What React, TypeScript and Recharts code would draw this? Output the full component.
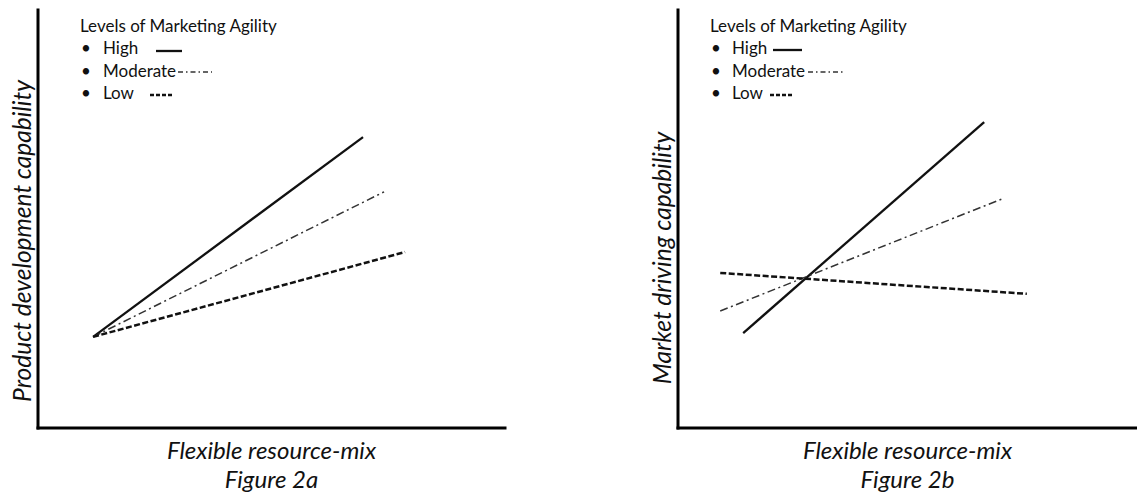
import React from 'react';
import { LineChart, Line, XAxis, YAxis, Legend, Label } from 'recharts';

// ---- data (x, y on a 0–100 conceptual scale) ----
const levelNames = ['High', 'Moderate', 'Low'];

const fig2aHigh = [{ x: 11.8, y: 21.8 }, { x: 69.6, y: 69.6 }];
const fig2aModerate = [{ x: 11.8, y: 21.8 }, { x: 74.1, y: 56.5 }];
const fig2aLow = [{ x: 11.8, y: 21.8 }, { x: 78.6, y: 42.1 }];

const fig2bHigh = [{ x: 14.2, y: 22.7 }, { x: 66.7, y: 73.2 }];
const fig2bModerate = [{ x: 9.2, y: 28.0 }, { x: 70.6, y: 54.8 }];
const fig2bLow = [{ x: 9.2, y: 37.1 }, { x: 76.0, y: 32.1 }];

const legendTitle = 'Levels of Marketing Agility';
const xTitle = 'Flexible resource-mix';
const fig2aY = 'Product development capability';
const fig2bY = 'Market driving capability';
const fig2aCaption = 'Figure 2a';
const fig2bCaption = 'Figure 2b';

// ---- styles ----
const FONT = "Lato, 'Open Sans', sans-serif";
const lineStyles = [
  { stroke: '#111', strokeWidth: 2.3, dash: undefined as string | undefined, legendDash: undefined as string | undefined, legendWidth: 2.3 },
  { stroke: '#333', strokeWidth: 1.5, dash: '8 3.5 2 3.5', legendDash: '5 3 1.5 3', legendWidth: 1.4 },
  { stroke: '#111', strokeWidth: 2.5, dash: '6 2.5', legendDash: '4 2', legendWidth: 2.4 },
];

type Sample = { x1: number; x2: number; y: number };
const legendSamplesA: Sample[] = [
  { x1: 76, x2: 102, y: 51 },
  { x1: 98, x2: 132, y: 72 },
  { x1: 70, x2: 92, y: 95 },
];
const legendSamplesB: Sample[] = [
  { x1: 63, x2: 92, y: 50 },
  { x1: 98, x2: 133, y: 72 },
  { x1: 60, x2: 82, y: 95 },
];

function makeLegend(samples: Sample[], textX: number) {
  return (props: any) => {
    const payload: any[] = props.payload || [];
    const ordered = levelNames.map((n) => payload.find((p) => p.value === n) || { value: n });
    return (
      <svg width={260} height={110} style={{ display: 'block', overflow: 'visible' }}>
        <text x={0} y={32} fontFamily={FONT} fontSize={17} fill="#111">
          {legendTitle}
        </text>
        {ordered.map((entry, i) => {
          const baseY = [54, 77, 99][i];
          const st = lineStyles[i];
          const s = samples[i];
          return (
            <g key={i}>
              <text x={1} y={baseY} fontFamily={FONT} fontSize={17} fill="#111">•</text>
              <text x={textX} y={baseY} fontFamily={FONT} fontSize={17} fill="#111">
                {entry.value}
              </text>
              <line
                x1={s.x1}
                x2={s.x2}
                y1={s.y}
                y2={s.y}
                stroke={st.stroke}
                strokeWidth={st.legendWidth}
                strokeDasharray={st.legendDash}
              />
            </g>
          );
        })}
      </svg>
    );
  };
}

const labelProps = { fontFamily: FONT, fontStyle: 'italic', fontSize: 24, fill: '#111' };

function yLabel(text: string, cx: number, cy: number) {
  return () => (
    <text
      x={cx}
      y={cy}
      transform={`rotate(-90 ${cx} ${cy})`}
      textAnchor="middle"
      dominantBaseline="central"
      {...labelProps}
      fontSize={24.5}
    >
      {text}
    </text>
  );
}

function Panel(props: {
  width: number;
  margin: { top: number; right: number; left: number; bottom: number };
  series: { x: number; y: number }[][];
  yTitle: string;
  yLabelPos: [number, number];
  caption: string;
  legendLeft: number;
  samples: Sample[];
  textX: number;
}) {
  const { width, margin, series, yTitle, yLabelPos, caption, legendLeft, samples, textX } = props;
  return (
    <LineChart width={width} height={496} margin={margin}>
      <XAxis
        type="number"
        dataKey="x"
        domain={[0, 100]}
        allowDataOverflow
        tick={false}
        tickLine={false}
        height={1}
        axisLine={{ stroke: '#000', strokeWidth: 3, strokeLinecap: 'square' }}
      >
        <Label value={xTitle} position="bottom" offset={13} {...labelProps} />
        <Label value={caption} position="bottom" offset={42} {...labelProps} />
      </XAxis>
      <YAxis
        type="number"
        dataKey="y"
        domain={[0, 100]}
        allowDataOverflow
        tick={false}
        tickLine={false}
        width={1}
        axisLine={{ stroke: '#000', strokeWidth: 3, strokeLinecap: 'square' }}
      >
        <Label content={yLabel(yTitle, yLabelPos[0], yLabelPos[1])} />
      </YAxis>
      <Legend
        layout="horizontal"
        verticalAlign="middle"
        align="center"
        width={260}
        height={110}
        wrapperStyle={{ left: legendLeft, top: 0, width: 260, height: 110 }}
        content={makeLegend(samples, textX)}
      />
      {series.map((d, i) => (
        <Line
          key={levelNames[i]}
          name={levelNames[i]}
          data={d}
          dataKey="y"
          type="linear"
          stroke={lineStyles[i].stroke}
          strokeWidth={lineStyles[i].strokeWidth}
          strokeDasharray={lineStyles[i].dash}
          dot={false}
          activeDot={false}
          legendType="line"
          isAnimationActive={false}
        />
      ))}
    </LineChart>
  );
}

export default function App() {
  return (
    <div style={{ position: 'absolute', left: 0, top: 0, width: 1137, height: 496, background: '#fff', overflow: 'hidden' }}>
      <div style={{ position: 'absolute', left: 0, top: 0 }}>
        <Panel
          width={520}
          margin={{ top: 10, right: 15, left: 37, bottom: 67 }}
          series={[fig2aHigh, fig2aModerate, fig2aLow]}
          yTitle={fig2aY}
          yLabelPos={[21, 241]}
          caption={fig2aCaption}
          legendLeft={80}
          samples={legendSamplesA}
          textX={23}
        />
      </div>
      <div style={{ position: 'absolute', left: 600, top: 0 }}>
        <Panel
          width={537}
          margin={{ top: 10, right: 0, left: 77, bottom: 67 }}
          series={[fig2bHigh, fig2bModerate, fig2bLow]}
          yTitle={fig2bY}
          yLabelPos={[61, 258]}
          caption={fig2bCaption}
          legendLeft={110}
          samples={legendSamplesB}
          textX={22}
        />
      </div>
    </div>
  );
}
